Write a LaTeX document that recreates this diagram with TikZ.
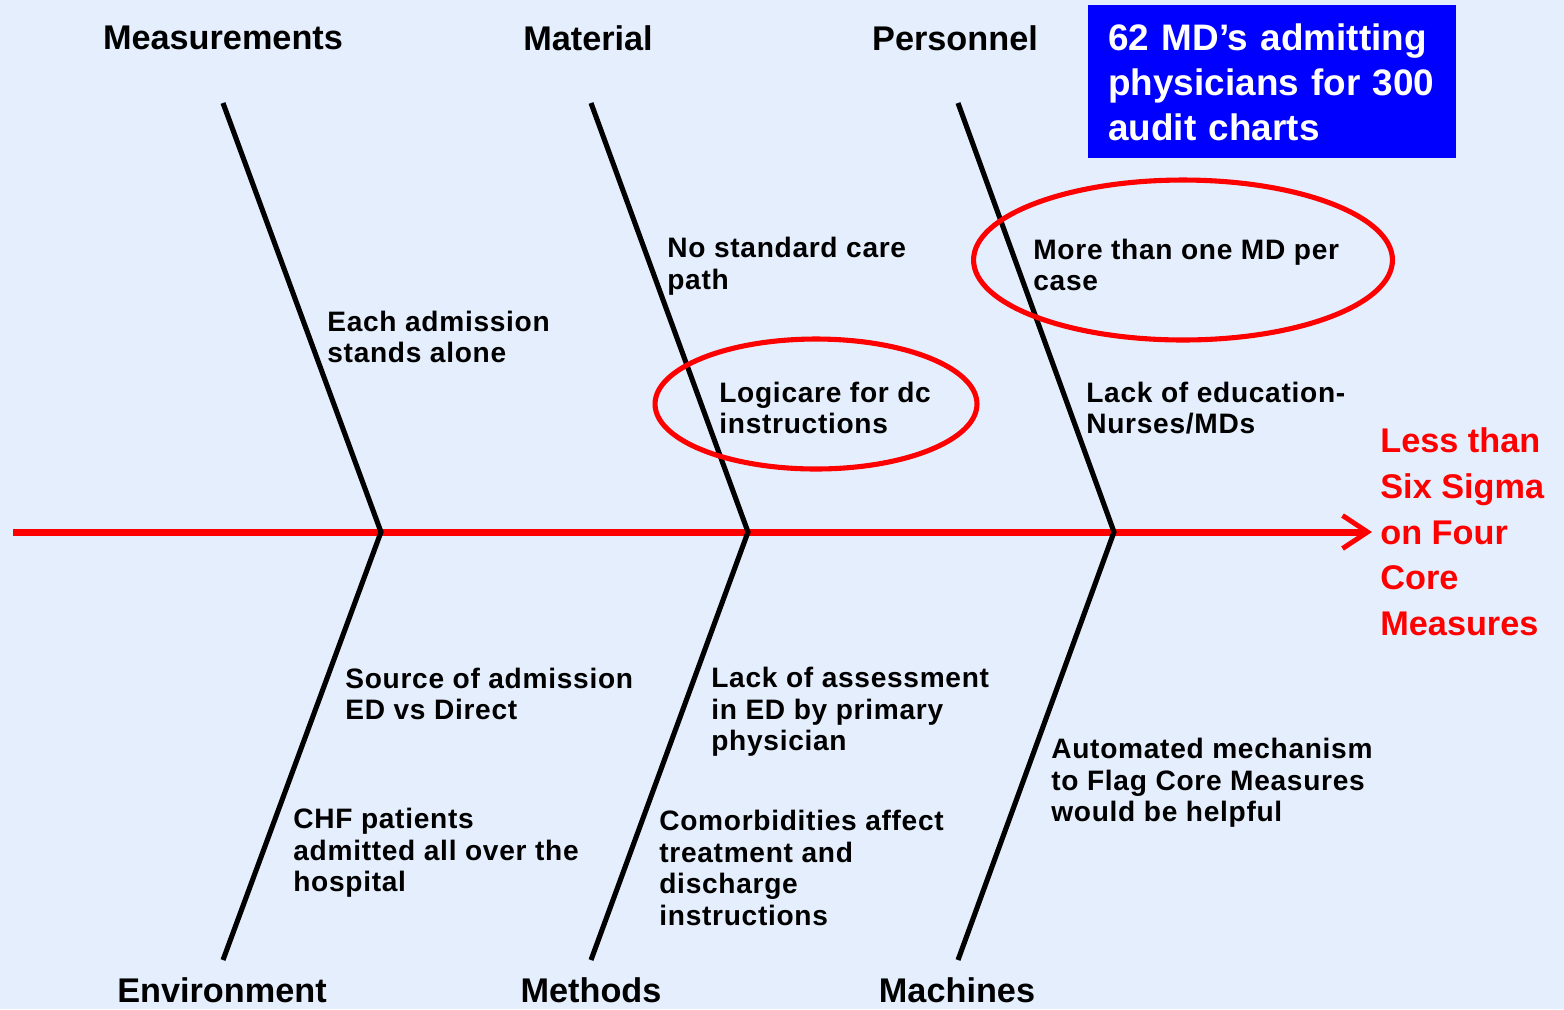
\documentclass[tikz,border=0pt]{standalone}
\usepackage{fontspec}
\setmainfont{Liberation Sans}
\newfontfamily\causefont[LetterSpace=2.5]{Liberation Sans}
\usetikzlibrary{arrows.meta,positioning}
\definecolor{slidebg}{RGB}{229,238,253}
\definecolor{effectred}{RGB}{255,0,0}
\definecolor{noteblue}{RGB}{0,0,255}

\begin{document}
\begin{tikzpicture}[x=0.02cm,y=-0.02cm,
  cat/.style={font=\fontsize{19.5}{22}\selectfont\bfseries,inner sep=0pt},
  cause/.style={font=\causefont\fontsize{16}{18}\selectfont\bfseries,align=left,anchor=west,inner sep=0pt},
  bone/.style={line width=2.9pt,line join=miter},
  ring/.style={draw=effectred,line width=2.9pt}]
\fill[slidebg] (0,0) rectangle (1564,1009);
\useasboundingbox (0,0) rectangle (1564,1009);
\coordinate (tail) at (13,532);
\coordinate (head) at (1372,532);
\coordinate (meastop) at (223,103);
\coordinate (measjoint) at (381,532);
\coordinate (envbot) at (223,960);
\coordinate (mattop) at (591,103);
\coordinate (matjoint) at (748,532);
\coordinate (methbot) at (591,960);
\coordinate (perstop) at (958,103);
\coordinate (persjoint) at (1114,532);
\coordinate (machbot) at (958,960);
\draw[effectred,line width=4pt,-{Straight Barb[length=0.5cm,width=0.66cm,line width=2.8pt]}] (tail) -- (head);
\draw[bone] (meastop) -- (measjoint) -- (envbot);
\draw[bone] (mattop) -- (matjoint) -- (methbot);
\draw[bone] (perstop) -- (persjoint) -- (machbot);
\node[cat] (meas) at (223,38) {Measurements};
\node[cat] (mat) at (588,38) {Material};
\node[cat] (pers) at (955,38) {Personnel};
\node[cat] (env) at (222,990) {Environment};
\node[cat] (meth) at (591,990) {Methods};
\node[cat] (mach) at (957,990) {Machines};
\node[fill=noteblue,text=white,font=\fontsize{21}{25.6}\selectfont\bfseries,align=left,anchor=north west,minimum width=7.36cm,minimum height=3.06cm,text width=6.56cm,inner sep=0pt,inner xsep=0.4cm] (note) at (1088,5) {62 MD’s admitting\\physicians for 300\\audit charts};
\node[effectred,font=\fontsize{19.5}{26}\selectfont\bfseries,align=left,anchor=west,inner sep=0pt] (effect) at (1380,532) {Less than\\Six Sigma\\on Four\\Core\\Measures};
\node[cause] (each) at (327,337) {Each admission\\stands alone};
\node[cause] (nostd) at (667,266) {No standard care\\path};
\node[cause] (logi) at (719,408) {Logicare for dc\\instructions};
\node[cause] (more) at (1033,265) {More than one MD per\\case};
\node[cause] (educ) at (1086,408) {Lack of education-\\Nurses/MDs};
\node[cause] (source) at (345,694) {Source of admission\\ED vs Direct};
\node[cause] (chf) at (293,853) {CHF patients\\admitted all over the\\hospital};
\node[cause] (assess) at (711,712) {Lack of assessment\\in ED by primary\\physician};
\node[cause] (comorb) at (659,868) {Comorbidities affect\\treatment and\\discharge\\instructions};
\node[cause] (auto) at (1051,783) {Automated mechanism\\to Flag Core Measures\\would be helpful};
\draw[ring] (816,404) ellipse [x radius=3.22cm,y radius=1.3cm];
\draw[ring] (1183,260) ellipse [x radius=4.19cm,y radius=1.6cm];
\end{tikzpicture}
\end{document}
